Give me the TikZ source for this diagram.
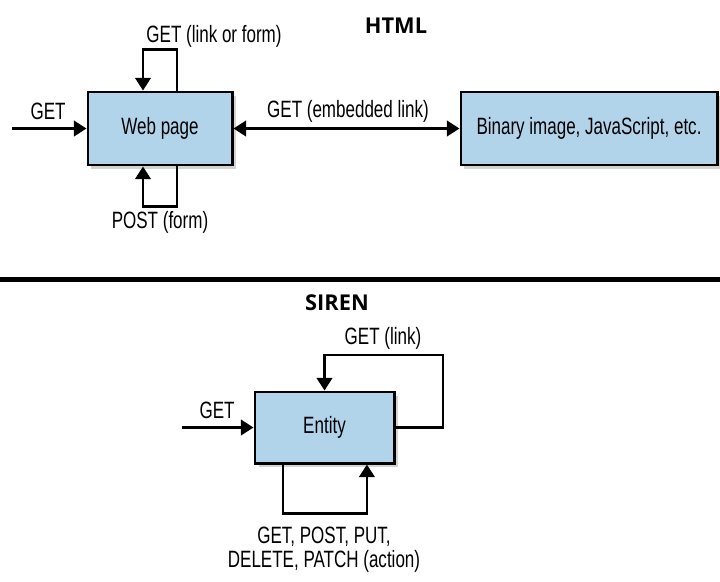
\documentclass[tikz,border=0pt]{standalone}
\usepackage{fontspec}
\setmainfont{Liberation Sans}[FakeStretch=0.72]
\newfontfamily\headfont{Open Sans}
\usepackage{tikz}
\usetikzlibrary{arrows.meta,shadows}

\definecolor{boxblue}{RGB}{178,212,234}
\newcommand{\lblfont}{\fontsize{16.8}{17.2}\selectfont}
\newcommand{\headsize}{\headfont\bfseries\fontsize{15.5}{18}\selectfont}

\tikzset{
  resbox/.style={draw, line width=2.1pt, fill=boxblue, minimum height=1.825cm,
    font=\lblfont, drop shadow={opacity=0.35, shadow xshift=2.5pt, shadow yshift=-2.5pt}},
  lbl/.style={font=\lblfont, inner sep=0pt},
  head/.style={font=\headsize, inner sep=0pt},
  arr/.style={line width=1.9pt, -{Triangle[length=9pt,width=11pt]}},
  arrboth/.style={line width=1.9pt, {Triangle[length=9pt,width=11pt]}-{Triangle[length=9pt,width=11pt]}}
}

\begin{document}
\begin{tikzpicture}[x=0.025cm, y=-0.025cm]
\useasboundingbox (0,0) rectangle (720,581);

\node[head] (html) at (396,26) {HTML};
\node[resbox, minimum width=3.6cm] (web) at (160,128.5) {Web page};
\node[resbox, minimum width=6.4cm] (bin) at (589,128.5) {Binary image, JavaScript, etc.};
\coordinate (webin) at (12,128.5);

\draw[arr] (webin) -- (web.west);
\draw[arrboth] (web.east) -- (bin.west);
\draw[arr] ([xshift=0.425cm]web.north) -- ++(0,1.025cm) -| ([xshift=-0.425cm]web.north);
\draw[arr] ([xshift=0.425cm]web.south) -- ++(0,-1cm) -| ([xshift=-0.425cm]web.south);

\node[lbl] (webget) at (48,111) {GET};
\node[lbl] (webself) at (214,36) {GET (link or form)};
\node[lbl] (webpost) at (160,222) {POST (form)};
\node[lbl] (embed) at (348,111) {GET (embedded link)};

\coordinate (divl) at (0,279.5);
\coordinate (divr) at (720,279.5);
\draw[line width=3.6pt] (divl) -- (divr);

\node[head] (siren) at (337,303) {SIREN};
\node[resbox, minimum width=3.475cm, minimum height=1.775cm] (entity) at (324.5,427.5) {Entity};
\coordinate (entin) at (182,427.5);
\coordinate (enttop) at (443,355);

\draw[arr] (entin) -- (entity.west);
\draw[arr] (entity.east) -| (enttop) -| (entity.north);
\draw[arr] ([xshift=-1.04cm]entity.south) -- ++(0,-1.225cm) -| ([xshift=1.06cm]entity.south);

\node[lbl] (entget) at (217,410) {GET};
\node[lbl] (entlink) at (383,338) {GET (link)};
\node[lbl, align=center] (entact) at (324,550) {GET, POST, PUT,\\DELETE, PATCH (action)};

\end{tikzpicture}
\end{document}
